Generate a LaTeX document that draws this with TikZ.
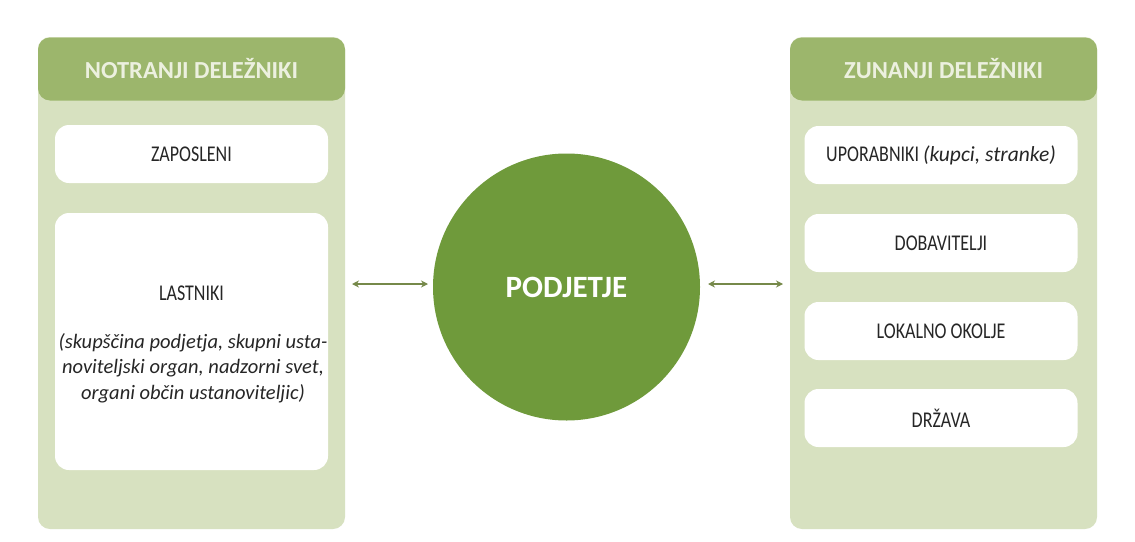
\documentclass[tikz,border=0pt]{standalone}
\usepackage{fontspec}
\setmainfont{Carlito}
\newfontfamily\narrowfont{Carlito}[FakeStretch=0.8]
\usetikzlibrary{arrows.meta}
\definecolor{panelgreen}{HTML}{D7E1C0}
\definecolor{headgreen}{HTML}{9CB66C}
\definecolor{circgreen}{HTML}{6F9A3B}
\definecolor{arrowgreen}{HTML}{76894A}
\definecolor{headtext}{HTML}{ECF0DF}
\tikzset{
  panel/.style={fill=panelgreen, draw=none, rounded corners=12pt, minimum width=307pt, minimum height=492pt, inner sep=0pt},
  header/.style={fill=headgreen, draw=none, rounded corners=12pt, minimum width=307pt, minimum height=63pt, inner sep=0pt, text=headtext, font=\bfseries\fontsize{24.5}{28}\selectfont},
  wbox/.style={fill=white, draw=none, rounded corners=14pt, minimum width=273pt, inner sep=0pt, font=\narrowfont\fontsize{22.5}{25}\selectfont, text=black!85},
  itx/.style={font=\itshape\fontsize{20.5}{25.5}\selectfont},
  link/.style={draw=arrowgreen, line width=1.3pt, {Stealth[length=7pt,width=7pt]}-{Stealth[length=7pt,width=7pt]}}
}
\begin{document}
\begin{tikzpicture}[x=1pt,y=-1pt]
\useasboundingbox (0,0) rectangle (1135,541);
\fill[white] (0,0) rectangle (1135,541);
% left panel
\node[panel] (lp) at (191.5,283) {};
\node[header] (lh) at (191.5,69) {NOTRANJI DELEŽNIKI};
\node[wbox, minimum height=58pt] (zap) at (191.5,154) {ZAPOSLENI};
\node[wbox, minimum height=257pt] (last) at (191.5,341.5) {};
\node[font=\narrowfont\fontsize{22.5}{25}\selectfont, text=black!85] (lastt) at (191.5,293) {LASTNIKI};
\node[itx, text=black!85, align=center] (lastd) at (193,368)
  {(skupščina podjetja, skupni usta-\\noviteljski organ, nadzorni svet,\\organi občin ustanoviteljic)};
% right panel
\node[panel] (rp) at (943.5,283) {};
\node[header] (rh) at (943.5,69) {ZUNANJI DELEŽNIKI};
\node[wbox, minimum height=58pt] (upo) at (941,155) {UPORABNIKI {\normalfont\itshape\fontsize{21.5}{24}\selectfont (kupci, stranke)}};
\node[wbox, minimum height=58pt] (dob) at (941,243) {DOBAVITELJI};
\node[wbox, minimum height=58pt] (lok) at (941,331) {LOKALNO OKOLJE};
\node[wbox, minimum height=58pt] (drz) at (941,418) {DRŽAVA};
% centre
\node[circle, fill=circgreen, minimum size=267pt, inner sep=0pt, text=white, font=\bfseries\fontsize{31}{36}\selectfont] (pod) at (566.5,287) {PODJETJE};
% arrows
\coordinate (la) at (352,284);
\coordinate (lb) at (428,284);
\coordinate (ra) at (708,284);
\coordinate (rb) at (783,284);
\draw[link] (la) -- (lb);
\draw[link] (ra) -- (rb);
\end{tikzpicture}
\end{document}
